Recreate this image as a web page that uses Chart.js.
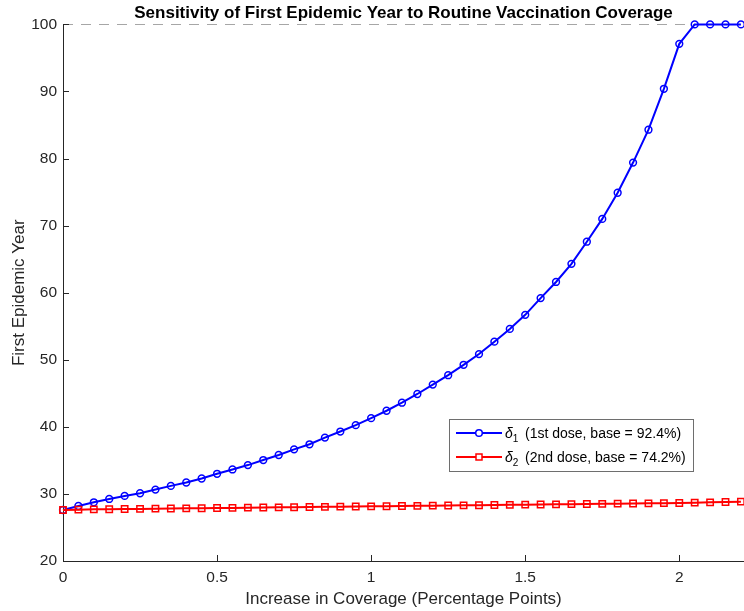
<!DOCTYPE html>
<html>
<head>
<meta charset="utf-8">
<script src="https://cdn.jsdelivr.net/npm/chart.js@4.4.1/dist/chart.umd.min.js"></script>
<style>
  html, body { margin: 0; padding: 0; background: #ffffff; }
  #wrap { width: 744px; height: 611px; }
</style>
</head>
<body>
<div id="wrap"><canvas id="c" width="744" height="611"></canvas></div>
<script>
// ---- data ----
const coverageIncrease = [0, 0.05, 0.1, 0.15, 0.2, 0.25, 0.3, 0.35, 0.4, 0.45,
  0.5, 0.55, 0.6, 0.65, 0.7, 0.75, 0.8, 0.85, 0.9, 0.95,
  1.0, 1.05, 1.1, 1.15, 1.2, 1.25, 1.3, 1.35, 1.4, 1.45,
  1.5, 1.55, 1.6, 1.65, 1.7, 1.75, 1.8, 1.85, 1.9, 1.95,
  2.0, 2.05, 2.1, 2.15, 2.2];
const delta1Years = [27.6, 28.2, 28.75, 29.25, 29.7, 30.1, 30.65, 31.2, 31.7, 32.3,
  33.0, 33.65, 34.3, 35.05, 35.8, 36.65, 37.4, 38.4, 39.3, 40.25,
  41.3, 42.4, 43.6, 44.9, 46.3, 47.7, 49.25, 50.85, 52.7, 54.6,
  56.7, 59.2, 61.6, 64.3, 67.6, 71.0, 74.9, 79.4, 84.3, 90.4,
  97.1, 100, 100, 100, 100];
const delta2Years = [27.6, 27.65, 27.7, 27.72, 27.75, 27.77, 27.8, 27.82, 27.85, 27.87,
  27.9, 27.92, 27.95, 27.97, 28.0, 28.02, 28.05, 28.07, 28.1, 28.12,
  28.15, 28.17, 28.2, 28.22, 28.25, 28.27, 28.3, 28.32, 28.35, 28.37,
  28.4, 28.42, 28.45, 28.47, 28.5, 28.52, 28.55, 28.57, 28.6, 28.62,
  28.65, 28.7, 28.75, 28.8, 28.85];
const seriesSymbols = ['δ', 'δ'];
const seriesSubscripts = ['1', '2'];
const seriesTexts = ['(1st dose, base = 92.4%)', '(2nd dose, base = 74.2%)'];
const xTickValues = [0, 0.5, 1, 1.5, 2];
const yTickValues = [20, 30, 40, 50, 60, 70, 80, 90, 100];
const referenceYear = 100;
const chartTitle = 'Sensitivity of First Epidemic Year to Routine Vaccination Coverage';
const xAxisTitle = 'Increase in Coverage (Percentage Points)';
const yAxisTitle = 'First Epidemic Year';

// ---- styling ----
const FONT = '"Liberation Sans", Arial, Helvetica, sans-serif';
const AXIS_COLOR = '#262626';
const BLUE = '#0000ff';
const RED = '#ff0000';

const pts = (ys) => coverageIncrease.map((x, i) => ({ x: x, y: ys[i] }));

const decorPlugin = {
  id: 'decor',
  beforeDatasetsDraw(chart) {
    const { ctx, chartArea, scales } = chart;
    const y = scales.y.getPixelForValue(referenceYear);
    ctx.save();
    ctx.strokeStyle = '#a6a6a6';
    ctx.lineWidth = 1;
    ctx.setLineDash([10, 8]);
    ctx.beginPath();
    ctx.moveTo(chartArea.left, Math.round(y) + 0.5);
    ctx.lineTo(chartArea.right, Math.round(y) + 0.5);
    ctx.stroke();
    ctx.restore();
  },
  afterDraw(chart) {
    const { ctx, chartArea, scales } = chart;
    ctx.save();
    ctx.strokeStyle = AXIS_COLOR;
    ctx.lineWidth = 1;
    ctx.beginPath();
    yTickValues.forEach(v => {
      const py = Math.round(scales.y.getPixelForValue(v)) + 0.5;
      ctx.moveTo(chartArea.left, py);
      ctx.lineTo(chartArea.left + 6, py);
    });
    xTickValues.forEach(v => {
      const px = Math.round(scales.x.getPixelForValue(v)) + 0.5;
      ctx.moveTo(px, chartArea.bottom);
      ctx.lineTo(px, chartArea.bottom - 6);
    });
    ctx.stroke();

    // legend box
    const bx = 449, by = 419, bw = 244, bh = 52;
    ctx.fillStyle = '#ffffff';
    ctx.fillRect(bx, by, bw, bh);
    ctx.strokeStyle = '#6e6e6e';
    ctx.strokeRect(bx + 0.5, by + 0.5, bw, bh);
    const dsOrder = [1, 0]; // blue first row, red second
    dsOrder.forEach((di, row) => {
      const ds = chart.data.datasets[di];
      const cy = by + 14 + row * 24;
      ctx.strokeStyle = ds.borderColor;
      ctx.lineWidth = 2;
      ctx.beginPath();
      ctx.moveTo(bx + 7, cy);
      ctx.lineTo(bx + 53, cy);
      ctx.stroke();
      ctx.lineWidth = 1.5;
      ctx.beginPath();
      if (ds.pointStyle === 'rect') {
        ctx.rect(bx + 30 - 3, cy - 3, 6, 6);
      } else {
        ctx.arc(bx + 30, cy, 3.3, 0, Math.PI * 2);
      }
      ctx.fillStyle = '#ffffff';
      ctx.fill();
      ctx.stroke();
      const si = ds.seriesIndex;
      ctx.fillStyle = '#000000';
      ctx.textBaseline = 'alphabetic';
      ctx.textAlign = 'left';
      ctx.font = 'italic 14px ' + FONT;
      ctx.fillText(seriesSymbols[si], bx + 56, cy + 5);
      const w1 = ctx.measureText(seriesSymbols[si]).width;
      ctx.font = '10px ' + FONT;
      ctx.fillText(seriesSubscripts[si], bx + 56 + w1, cy + 9);
      ctx.font = '14px ' + FONT;
      ctx.fillText(seriesTexts[si], bx + 76, cy + 5);
    });
    ctx.restore();
  }
};

new Chart(document.getElementById('c'), {
  type: 'line',
  data: {
    datasets: [
      {
        label: 'δ₂ ' + seriesTexts[1],
        seriesIndex: 1,
        data: pts(delta2Years),
        borderColor: RED,
        backgroundColor: 'rgba(0,0,0,0)',
        borderWidth: 2,
        pointStyle: 'rect',
        pointRadius: 4.5,
        pointBorderWidth: 1.5,
        pointBorderColor: RED,
        pointBackgroundColor: 'rgba(0,0,0,0)',
        tension: 0,
        clip: false,
        order: 0
      },
      {
        label: 'δ₁ ' + seriesTexts[0],
        seriesIndex: 0,
        data: pts(delta1Years),
        borderColor: BLUE,
        backgroundColor: 'rgba(0,0,0,0)',
        borderWidth: 2,
        pointStyle: 'circle',
        pointRadius: 3.4,
        pointBorderWidth: 1.5,
        pointBorderColor: BLUE,
        pointBackgroundColor: 'rgba(0,0,0,0)',
        tension: 0,
        clip: false,
        order: 1
      }
    ]
  },
  options: {
    responsive: false,
    devicePixelRatio: 1,
    animation: false,
    layout: { autoPadding: false, padding: { left: 0, right: 0, top: 0, bottom: 0 } },
    plugins: {
      legend: { display: false },
      tooltip: { enabled: false },
      title: {
        display: true,
        fullSize: false,
        text: chartTitle,
        color: '#000000',
        font: { family: FONT, size: 17, weight: 'bold' },
        padding: { top: 3, bottom: 1 }
      }
    },
    scales: {
      x: {
        type: 'linear',
        min: 0,
        max: 2.21,
        afterBuildTicks: (s) => { s.ticks = xTickValues.map(v => ({ value: v })); },
        afterFit: (s) => { s.height = 50; s.paddingRight = 0; s.paddingLeft = 0; },
        grid: { display: false, drawTicks: false },
        border: { display: true, color: AXIS_COLOR, width: 1 },
        ticks: {
          color: AXIS_COLOR,
          font: { family: FONT, size: 15.5 },
          padding: 7,
          maxRotation: 0,
          callback: (v) => String(v)
        },
        title: {
          display: true,
          text: xAxisTitle,
          color: AXIS_COLOR,
          font: { family: FONT, size: 17 },
          padding: { top: 0, bottom: 1 }
        }
      },
      y: {
        type: 'linear',
        min: 20,
        max: 100,
        afterBuildTicks: (s) => { s.ticks = yTickValues.map(v => ({ value: v })); },
        afterFit: (s) => { s.width = 63; },
        grid: { display: false, drawTicks: false },
        border: { display: true, color: AXIS_COLOR, width: 1 },
        ticks: {
          color: AXIS_COLOR,
          font: { family: FONT, size: 15.5 },
          padding: 6,
          callback: (v) => String(v)
        },
        title: {
          display: true,
          text: yAxisTitle,
          color: AXIS_COLOR,
          font: { family: FONT, size: 17 },
          padding: { top: 9, bottom: 0 }
        }
      }
    }
  },
  plugins: [decorPlugin]
});
</script>
</body>
</html>
